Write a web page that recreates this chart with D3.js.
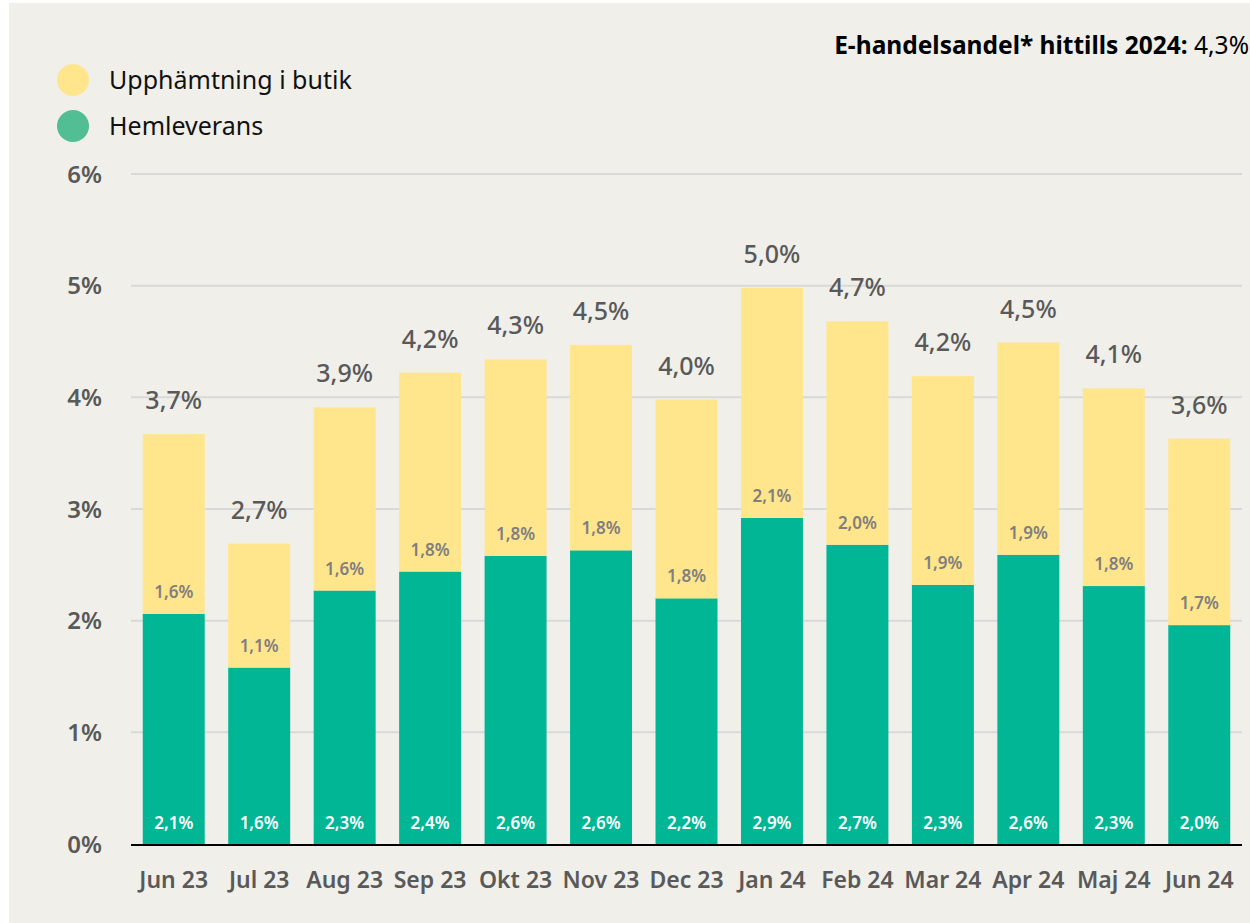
<!DOCTYPE html>
<html>
<head>
<meta charset="utf-8">
<script src="https://cdn.jsdelivr.net/npm/d3@7"></script>
<style>
  body { margin: 0; background: #fff; }
  svg { display: block; font-family: "Noto Sans", "Open Sans", sans-serif; }
</style>
</head>
<body>
<div class="container"></div>
<script>
// months on the x axis
var months = ['Jun 23', 'Jul 23', 'Aug 23', 'Sep 23', 'Okt 23', 'Nov 23', 'Dec 23',
              'Jan 24', 'Feb 24', 'Mar 24', 'Apr 24', 'Maj 24', 'Jun 24'];
// Hemleverans (green, bottom)
var hemleverans = [2.06, 1.58, 2.27, 2.44, 2.58, 2.63, 2.20, 2.92, 2.68, 2.32, 2.59, 2.31, 1.96];
// Upphämtning i butik (yellow, top)
var upphamtning = [1.61, 1.11, 1.64, 1.78, 1.76, 1.84, 1.78, 2.06, 2.00, 1.87, 1.90, 1.77, 1.67];
var yTicks = [0, 1, 2, 3, 4, 5, 6];
var seriesNames = ['Upphämtning i butik', 'Hemleverans'];

var width = 1250, height = 923;
var yellow = '#FFE58B', green = '#00B694', legendGreen = '#52BE94';

var svg = d3.select('.container').append('svg')
    .attr('width', width)
    .attr('height', height);

// panel background
svg.append('rect')
    .attr('x', 9).attr('y', 3)
    .attr('width', width - 9).attr('height', height - 3)
    .attr('fill', '#F0EFEA');

var x = d3.scaleBand()
    .domain(months)
    .range([131, 1242])
    .paddingInner(0.275)
    .paddingOuter(0.1375);

var y = d3.scaleLinear()
    .domain([0, 6])
    .range([844, 174]);

var fmt = function(v) { return d3.format('.1f')(v).replace('.', ',') + '%'; };

// gridlines
svg.append('g').selectAll('line')
    .data(yTicks.filter(function(d) { return d > 0; }))
    .enter().append('line')
    .attr('x1', 131).attr('x2', 1242)
    .attr('y1', function(d) { return y(d); })
    .attr('y2', function(d) { return y(d); })
    .attr('stroke', '#D9D9D9')
    .attr('stroke-width', 2);

// y tick labels
svg.append('g').selectAll('text')
    .data(yTicks)
    .enter().append('text')
    .attr('x', 102)
    .attr('y', function(d) { return y(d); })
    .attr('dy', '0.36em')
    .attr('text-anchor', 'end')
    .attr('font-size', 24)
    .attr('font-weight', 600)
    .attr('fill', '#595959')
    .text(function(d) { return d + '%'; });

var data = months.map(function(m, i) {
    return { month: m, green: hemleverans[i], yellow: upphamtning[i], total: hemleverans[i] + upphamtning[i] };
});

var bars = svg.append('g').selectAll('g')
    .data(data)
    .enter().append('g');

bars.append('rect')
    .attr('x', function(d) { return x(d.month); })
    .attr('width', x.bandwidth())
    .attr('y', function(d) { return y(d.green); })
    .attr('height', function(d) { return y(0) - y(d.green); })
    .attr('fill', green);

bars.append('rect')
    .attr('x', function(d) { return x(d.month); })
    .attr('width', x.bandwidth())
    .attr('y', function(d) { return y(d.total); })
    .attr('height', function(d) { return y(d.green) - y(d.total); })
    .attr('fill', yellow);

var cx = function(d) { return x(d.month) + x.bandwidth() / 2; };

// green labels at bar bottom
bars.append('text')
    .attr('x', cx)
    .attr('y', y(0) - 21)
    .attr('dy', '0.36em')
    .attr('text-anchor', 'middle')
    .attr('font-size', 17)
    .attr('font-weight', 600)
    .attr('fill', '#fff')
    .text(function(d) { return fmt(d.green); });

// yellow labels just above the green part
bars.append('text')
    .attr('x', cx)
    .attr('y', function(d) { return y(d.green) - 22; })
    .attr('dy', '0.36em')
    .attr('text-anchor', 'middle')
    .attr('font-size', 17)
    .attr('font-weight', 600)
    .attr('fill', '#7F7F7F')
    .text(function(d) { return fmt(d.yellow); });

// totals above bars
bars.append('text')
    .attr('x', cx)
    .attr('y', function(d) { return y(d.total) - 34; })
    .attr('dy', '0.36em')
    .attr('text-anchor', 'middle')
    .attr('font-size', 25)
    .attr('font-weight', 500)
    .attr('fill', '#595959')
    .text(function(d) { return fmt(d.total); });

// x axis line + labels
svg.append('line')
    .attr('x1', 131).attr('x2', 1242)
    .attr('y1', y(0) + 1).attr('y2', y(0) + 1)
    .attr('stroke', '#000')
    .attr('stroke-width', 2);

svg.append('g').selectAll('text')
    .data(months)
    .enter().append('text')
    .attr('x', function(d) { return x(d) + x.bandwidth() / 2; })
    .attr('y', 880)
    .attr('dy', '0.36em')
    .attr('text-anchor', 'middle')
    .attr('font-size', 23)
    .attr('font-weight', 600)
    .attr('fill', '#595959')
    .text(function(d) { return d; });

// legend
var legend = svg.append('g').selectAll('g')
    .data(seriesNames)
    .enter().append('g')
    .attr('transform', function(d, i) { return 'translate(73,' + (80 + i * 46) + ')'; });

legend.append('circle')
    .attr('r', 16)
    .attr('fill', function(d, i) { return i === 0 ? yellow : legendGreen; });

legend.append('text')
    .attr('x', 36)
    .attr('dy', '0.36em')
    .attr('font-size', 25)
    .attr('fill', '#111')
    .text(function(d) { return d; });

// title top right
var title = svg.append('text')
    .attr('x', 1249)
    .attr('y', 45)
    .attr('dy', '0.36em')
    .attr('text-anchor', 'end')
    .attr('font-size', 24.5)
    .attr('fill', '#000');
title.append('tspan').attr('font-weight', 700).text('E-handelsandel* hittills 2024: ');
title.append('tspan').attr('font-weight', 400).text('4,3%');
</script>
</body>
</html>
